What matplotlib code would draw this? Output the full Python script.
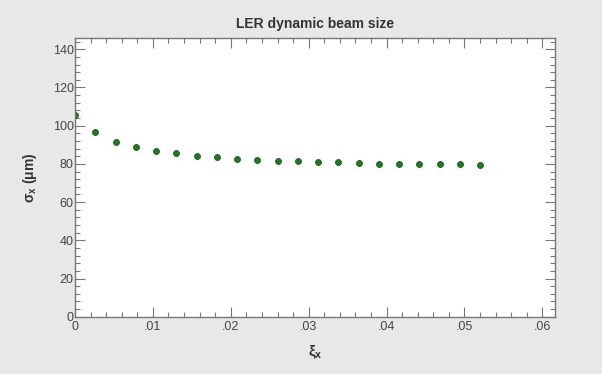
import matplotlib
matplotlib.use("Agg")
import matplotlib.pyplot as plt
from matplotlib.ticker import MultipleLocator, FuncFormatter

# beam-beam parameter vs horizontal beam size
xi_x = [0.0, 0.0026, 0.0052, 0.0078, 0.0104, 0.013, 0.0156, 0.0182, 0.0208,
        0.0234, 0.026, 0.0286, 0.0312, 0.0338, 0.0364, 0.039, 0.0416,
        0.0442, 0.0468, 0.0494, 0.052]
sigma_x = [105.5, 96.5, 91.5, 88.9, 86.8, 85.5, 84.2, 83.7, 82.5, 82.0, 81.6,
           81.6, 80.9, 80.9, 80.3, 80.2, 79.9, 79.9, 79.9, 79.9, 79.4]

plt.rcParams['font.family'] = ['Liberation Sans', 'DejaVu Sans']
plt.rcParams['mathtext.default'] = 'regular'
txt = '#444444'

fig = plt.figure(figsize=(6.02, 3.74), dpi=100, facecolor='#e8e8e8')
ax = fig.add_axes([0.1246, 0.153, 0.797, 0.746])
ax.set_facecolor('white')

ax.plot(xi_x, sigma_x, linestyle='none', marker='o', markersize=4.3,
        color='#1e7a1e', markeredgecolor='#1b5e1b', markeredgewidth=0.6)

ax.set_xlim(0, 0.0616)
ax.set_ylim(0, 146)
ax.xaxis.set_major_locator(MultipleLocator(0.01))
ax.xaxis.set_minor_locator(MultipleLocator(0.002))
ax.yaxis.set_major_locator(MultipleLocator(20))
ax.yaxis.set_minor_locator(MultipleLocator(4))

def xfmt(v, pos):
    if abs(v) < 1e-9:
        return '0'
    return ('%.2f' % v)[1:]

ax.xaxis.set_major_formatter(FuncFormatter(xfmt))

for s in ax.spines.values():
    s.set_color('#777777')
    s.set_linewidth(1.0)

ax.tick_params(which='both', direction='in', top=True, right=True,
               colors='#777777', labelcolor=txt, labelsize=9)
ax.tick_params(which='major', length=7, width=0.8)
ax.tick_params(which='minor', length=3.5, width=0.8)
ax.tick_params(axis='x', pad=3)
ax.tick_params(axis='y', pad=1)

ax.set_title('LER dynamic beam size', fontsize=10, fontweight='bold',
             color='#333333', pad=7)
ax.set_xlabel(r'$\xi_{x}$', fontsize=11, color='#333333', labelpad=8,
              fontweight='bold')
ax.set_ylabel(r'$\sigma_{x}$ ($\mu$m)', fontsize=10, color='#333333',
              labelpad=10, fontweight='bold')

fig.savefig('out.png', dpi=100, facecolor=fig.get_facecolor())
